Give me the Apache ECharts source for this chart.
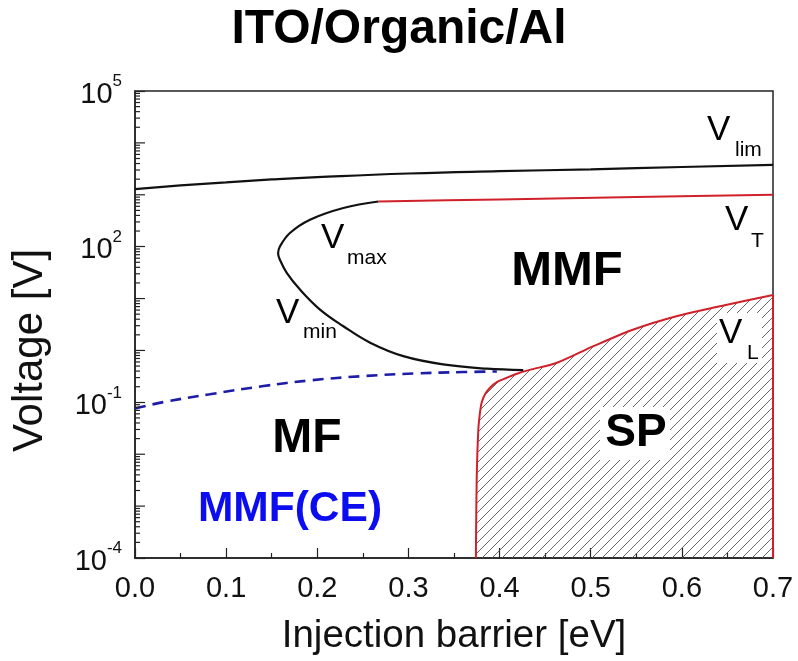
<!DOCTYPE html>
<html>
<head>
<meta charset="utf-8">
<script src="https://cdn.jsdelivr.net/npm/echarts@6/dist/echarts.min.js"></script>
<style>
  html, body { margin: 0; padding: 0; background: #fff; }
  #chart { width: 798px; height: 661px; }
</style>
</head>
<body>
<div id="chart"></div>
<script>
const FONT = '"Liberation Sans", Arial, Helvetica, sans-serif';

// Upper voltage limit V_lim versus injection barrier
const limX = [0, 0.05, 0.1, 0.15, 0.2, 0.3, 0.4, 0.5, 0.6, 0.7];
const limV = [1288, 1514, 1738, 1975, 2190, 2570, 2851, 3090, 3428, 3758];

// Transition voltage V_T
const tX = [0.267, 0.4, 0.55, 0.7];
const tV = [741, 813, 902, 1000];

// V_max / V_min loop (upper branch runs into the lower branch)
const loopX = [0.267, 0.2286, 0.192, 0.170, 0.159, 0.157, 0.159, 0.1665, 0.181, 0.203, 0.2286, 0.258, 0.2944, 0.338, 0.386, 0.426];
const loopV = [741, 555, 330, 183, 101, 75, 56, 31.2, 14.9, 6.14, 2.93, 1.41, 0.776, 0.538, 0.445, 0.418];

// MMF(CE) boundary (dashed)
const ceX = [0, 0.031, 0.082, 0.141, 0.192, 0.251, 0.309, 0.36, 0.397];
const ceV = [0.0759, 0.101, 0.143, 0.206, 0.265, 0.321, 0.361, 0.383, 0.394];

// Lower limit V_L bounding the SP region
const lX = [0.374, 0.3749, 0.3767, 0.3785, 0.3804, 0.384, 0.3895, 0.397, 0.408, 0.419, 0.432, 0.463, 0.503, 0.547, 0.594, 0.642, 0.7];
const lV = [1e-4, 0.0033, 0.030, 0.063, 0.099, 0.143, 0.191, 0.246, 0.298, 0.356, 0.418, 0.579, 1.21, 2.54, 4.57, 7.11, 11.7];

// Axis ranges
const xMin = 0, xMax = 0.7, xStep = 0.1;
const yMin = 1e-4, yMax = 1e5;
const decades = [-4, -3, -2, -1, 0, 1, 2, 3, 4];
const labelledDecades = [-4, -1, 2, 5];
const mantissas = [2, 3, 4, 5, 6, 7, 8, 9];

const zip = (xs, ys) => xs.map((x, i) => [x, ys[i]]);

// Inner tick marks of the log axis: decades (long) and 2..9 (short)
const yTicks = [];
decades.forEach(d => {
  if (!labelledDecades.includes(d)) yTicks.push([0, Math.pow(10, d), 10]);
  mantissas.forEach(m => yTicks.push([0, m * Math.pow(10, d), 5]));
});

function hatchTile() {
  const s = 10;
  const c = document.createElement('canvas');
  c.width = s; c.height = s;
  const g = c.getContext('2d');
  g.strokeStyle = '#555555';
  g.lineWidth = 0.9;
  g.beginPath();
  g.moveTo(0, s); g.lineTo(s, 0);
  g.moveTo(-1, 1); g.lineTo(1, -1);
  g.moveTo(s - 1, s + 1); g.lineTo(s + 1, s - 1);
  g.stroke();
  return c;
}

const RED = '#d0202a';
const BLACK = '#111111';

const chart = echarts.init(document.getElementById('chart'), null, { renderer: 'canvas' });

function txt(text, x, y, size, opts) {
  return {
    type: 'text', x: x, y: y, z: 100,
    style: Object.assign({
      text: text,
      fontSize: size,
      fontFamily: FONT,
      fill: '#000',
      align: 'left', textAlign: 'left',
      verticalAlign: 'middle', textVerticalAlign: 'middle'
    }, opts || {})
  };
}

chart.setOption({
  animation: false,
  backgroundColor: '#fff',
  title: {
    text: 'ITO/Organic/Al',
    left: 'center',
    top: 1,
    textStyle: { fontSize: 48, fontWeight: 'bold', fontFamily: FONT, color: '#000' }
  },
  grid: {
    left: 135, right: 25, top: 91, bottom: 102,
    show: true, borderColor: '#222', borderWidth: 1.5, backgroundColor: 'transparent'
  },
  xAxis: {
    type: 'value',
    min: xMin, max: xMax, interval: xStep,
    name: 'Injection barrier [eV]',
    nameLocation: 'middle',
    nameGap: 59,
    nameTextStyle: { fontSize: 38.5, fontFamily: FONT, color: '#111' },
    axisLine: { show: true, lineStyle: { color: '#222', width: 1.5 } },
    axisTick: { show: true, inside: true, length: 10, lineStyle: { color: '#222', width: 1.2 } },
    minorTick: { show: true, splitNumber: 2, length: 5, lineStyle: { color: '#222', width: 1.2 } },
    splitLine: { show: false },
    axisLabel: {
      fontSize: 29, fontFamily: FONT, color: '#111', margin: 16,
      formatter: v => v.toFixed(1)
    }
  },
  yAxis: {
    type: 'log',
    logBase: 10,
    min: yMin, max: yMax, interval: 3,
    name: 'Voltage [V]',
    nameLocation: 'middle',
    nameGap: 84,
    nameTextStyle: { fontSize: 42, fontFamily: FONT, color: '#111', padding: [0, 52, 0, 0] },
    axisLine: { show: true, lineStyle: { color: '#222', width: 1.5 } },
    axisTick: { show: true, inside: true, length: 10, lineStyle: { color: '#222', width: 1.2 } },
    splitLine: { show: false },
    axisLabel: {
      margin: 13,
      color: '#111',
      formatter: v => '{b|10}{e|' + Math.round(Math.log10(v)) + '}',
      rich: {
        b: { fontSize: 29, fontFamily: FONT, color: '#111', lineHeight: 36, verticalAlign: 'bottom' },
        e: { fontSize: 17, fontFamily: FONT, color: '#111', lineHeight: 17, verticalAlign: 'top' }
      }
    }
  },
  series: [
    {
      name: 'ticks', type: 'custom', clip: false, silent: true, z: 5,
      data: yTicks,
      renderItem: (params, api) => {
        const p = api.coord([api.value(0), api.value(1)]);
        return {
          type: 'line',
          shape: { x1: p[0], y1: p[1], x2: p[0] + api.value(2), y2: p[1] },
          style: { stroke: '#222', lineWidth: 1.2 }
        };
      }
    },
    {
      name: 'V_L', type: 'line', data: zip(lX, lV), smooth: 0.3,
      showSymbol: false, symbol: 'none', z: 3,
      lineStyle: { color: RED, width: 2 },
      areaStyle: { origin: 'start', opacity: 1, color: { image: hatchTile(), repeat: 'repeat' } }
    },
    {
      name: 'edge', type: 'line', data: [[xMax, lV[lV.length - 1]], [xMax, yMin]],
      showSymbol: false, symbol: 'none', z: 4,
      lineStyle: { color: RED, width: 2 }
    },
    {
      name: 'V_lim', type: 'line', data: zip(limX, limV), smooth: 0.5,
      showSymbol: false, symbol: 'none', lineStyle: { color: BLACK, width: 2.2 }
    },
    {
      name: 'V_T', type: 'line', data: zip(tX, tV), smooth: 0.3,
      showSymbol: false, symbol: 'none', lineStyle: { color: RED, width: 2 }
    },
    {
      name: 'V_max/V_min', type: 'line', data: zip(loopX, loopV), smooth: 0.4,
      showSymbol: false, symbol: 'none', lineStyle: { color: BLACK, width: 2.2 }
    },
    {
      name: 'MMF(CE)', type: 'line', data: zip(ceX, ceV), smooth: 0.4,
      showSymbol: false, symbol: 'none',
      lineStyle: { color: '#1c1ca8', width: 2.6, type: [11, 7] }
    }
  ],
  graphic: [
    { type: 'rect', z: 90, shape: { x: 717, y: 313, width: 45, height: 50 }, style: { fill: '#fff' } },
    { type: 'rect', z: 90, shape: { x: 600, y: 407, width: 70, height: 53 }, style: { fill: '#fff' } },
    txt('MMF', 567, 271, 49, { fontWeight: 'bold', align: 'center', textAlign: 'center' }),
    txt('MF', 307, 439, 48, { fontWeight: 'bold', align: 'center', textAlign: 'center' }),
    txt('SP', 636, 433, 46, { fontWeight: 'bold', align: 'center', textAlign: 'center' }),
    txt('MMF(CE)', 290, 509, 42.5, { fontWeight: 'bold', align: 'center', textAlign: 'center', fill: '#0c0cf0' }),
    txt('V', 707, 130, 35), txt('lim', 735, 150, 21),
    txt('V', 725, 220, 35), txt('T', 751, 241, 21),
    txt('V', 321, 238, 35), txt('max', 347, 258, 21),
    txt('V', 276, 313, 35), txt('min', 303, 332, 21),
    txt('V', 719, 333, 35), txt('L', 747, 353, 21)
  ]
});
</script>
</body>
</html>
